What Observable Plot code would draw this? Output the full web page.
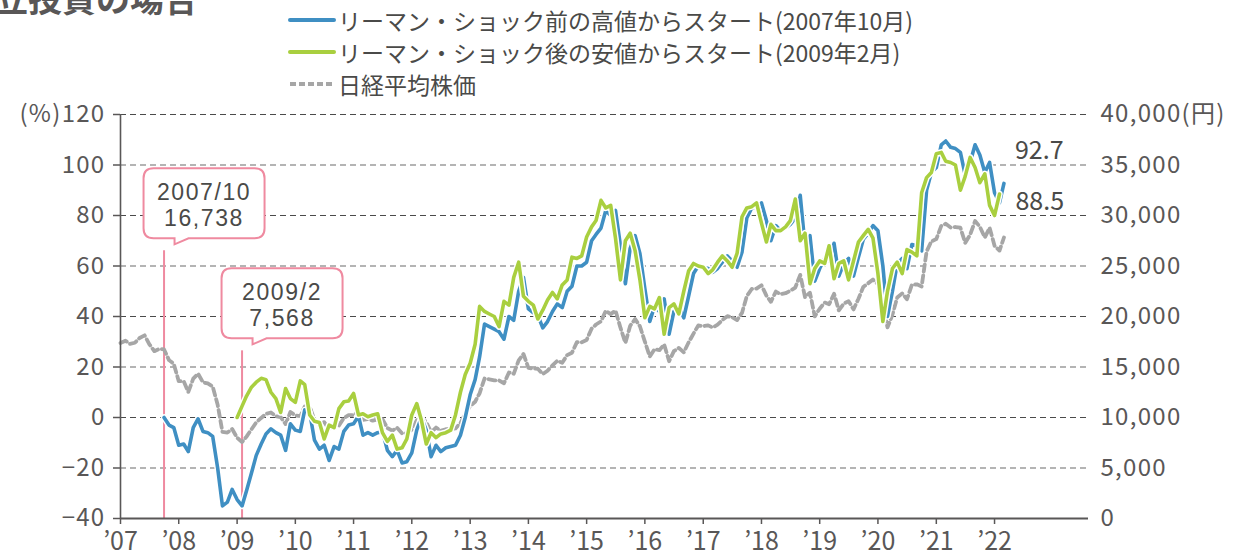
<!DOCTYPE html>
<html><head><meta charset="utf-8">
<script src="https://cdn.jsdelivr.net/npm/d3@7"></script>
<script src="https://cdn.jsdelivr.net/npm/@observablehq/plot@0.6"></script>
<style>
body{margin:0;background:#fff;font-family:"Noto Sans CJK JP",sans-serif;}
#wrap{position:relative;width:1249px;height:556px;overflow:hidden;}
#title{position:absolute;left:-40px;top:-19px;font-size:34px;line-height:34px;font-weight:bold;color:#595757;white-space:nowrap;}
#legend{position:absolute;left:288px;top:4px;font-size:23px;color:#4a4a48;}
.item{display:flex;align-items:center;height:32px;white-space:nowrap;}
.item svg{margin-right:2px;}
#chart{position:absolute;left:0;top:0;}
</style></head><body>
<div id="wrap"><div id="chart"></div><div id="title">積立投資の場合</div><div id="legend"></div></div>
<script>
// ---- data ----
const nikkeiStart = "2007-01";
const nikkei = [
17383,17604,17288,17400,17876,18138,17249,16569,16786,16738,15681,15308,
13592,13603,12526,13850,14339,13481,13377,13073,11260,8577,8512,8860,
7994,7568,8110,8828,9523,9958,10357,10493,10133,10035,9346,10546,
10198,10126,11090,11057,9769,9383,9537,8824,9369,9202,9937,10229,
10238,10624,9755,9850,9694,9816,9833,8955,8700,8988,8435,8455,
8803,9723,10084,9521,8543,9007,8695,8840,8870,8928,9446,10395,
11139,11559,12398,13861,13775,13677,13668,13389,14456,14328,15662,16291,
14915,14841,14828,14304,14632,15162,15621,15425,16174,16414,17460,17451,
17674,18798,19207,19520,20563,20236,20585,18890,17388,19083,19747,19034,
17518,16027,16759,16666,17235,15576,16569,16887,16450,17425,18308,19114,
19041,19119,18909,19197,19651,20033,19925,19646,20356,22012,22725,22765,
23098,22068,21454,22468,22202,22305,22554,22865,24120,21920,22351,20015,
20773,21385,21206,22259,20601,21276,21522,20704,21756,22927,23294,23657,
23205,21143,18917,20194,21878,22288,21710,23140,23185,22977,26434,27444,
27663,28966,29179,28813,28860,28792,27284,28090,29453,28893,27822,28792,
27002,26527,27821];

const blueStart = "2007-10";
const blue = [
0,-3,-4,
-11,-10.5,-13.5,-4,-0.5,-5.5,-6,-7.5,-20,-35,-33.5,-28.5,
-32.5,-35,-29,-22,-15,-10.5,-6.5,-4.5,-6,-7,-13,-2.5,
-5,-5.5,3,2,-9,-12.5,-11,-17,-11.5,-12.5,-5.5,-3,
-2.5,0.5,-7,-6,-7,-6,-5.5,-13,-15.5,-13,-18,-17.5,
-14,-5,0,-5,-15.5,-11,-13.5,-12,-11.5,-11,-7,0,
9,15,24,37,36,35,34,31,40,38.5,50,55.5,
43,41.5,40.5,35.5,38,42,45,43.5,50,52,60,60,
61.5,70,72.5,75,82,80,82,68,53,67,72,65,
51,38,44,42,47,33,42,44,39.5,48,57,60,
59.5,59,57.5,59,61.5,64,62,59.5,65.5,79,83,83.5,
85,78,70,76,74,75,76.5,79,88,68,72,54,
59,63,62,69,56,61,63,56,63.5,70.5,73,76,
74,60,40,50,61,63,59,68.5,68,66,90,97,
99,108,109.5,107,106.5,105,96,101,108,104,97,101,
89,85,92.7];

const greenStart = "2009-01";
const green = [
0,4.5,8.5,12,14,15.5,15,10,7.5,2,11.5,7.5,
6,14.5,13,1,-1.5,-2,-8.5,-3,-4,3.5,6.2,6.5,
9.5,1,1.5,0.3,1,1.5,-6,-9.5,-7,-12.5,-12,-8.5,
1,5.5,-1,-10.5,-6,-8,-6.5,-6,-5,1,10,17,
21.5,29,44,42,41,40,36,46,44.5,55.5,61.5,48,
46,44.5,39,42.5,46.5,49.5,47,52.5,54.5,63.5,63,64,
71.5,75.5,78,86,83,84,71,54.5,70,73,66,54.5,
39.5,44,43,47.5,33,43.5,45,41,50,58,61,60,
59.5,57,58.5,61.5,64,62,59.5,65,79.5,83,83.5,85,
77,69.5,76.5,74,74,75.5,78,86.5,70,73,53,59,
62,61,68,55,61,62,54.5,62,69.5,72,74.5,71,
57,38,50,59,61.5,57,66.5,65.5,64,89,95,97,
104.5,105,101.5,101,100,90,95.5,103,99,93,96.5,84,
80,88.5];

const seriesNames = ["リーマン・ショック前の高値からスタート(2007年10月)","リーマン・ショック後の安値からスタート(2009年2月)","日経平均株価"];
const yTicks = [-40,-20,0,20,40,60,80,100,120];
const yearTicks = ["2007","2008","2009","2010","2011","2012","2013","2014","2015","2016","2017","2018","2019","2020","2021","2022"];
const calloutDates = ["2007-10","2009-02"];
const calloutLabels = ["2007/10","2009/2"];
const calloutPrices = ["16,738","7,568"];

// ---- layout / style ----
const FONT = '"Noto Sans CJK JP", sans-serif';
const BOXFONT = '"Liberation Sans", "Noto Sans CJK JP", sans-serif';
const INK = "#595757";
const TXT = "#4a4a48";
const BLUE = "#3f8fc3", GREEN = "#a9cf3f", GRAY = "#a6a6a6", PINK = "#ef8aa0";
const calloutTop = [66, 26.4]; // where each pink rule starts (left-axis units)

const ym = s => { const [y, m] = s.split("-").map(Number); return new Date(Date.UTC(y, (m || 1) - 1, 1)); };
const build = (start, vals) => vals.map((v, i) => ({date: d3.utcMonth.offset(ym(start), i), value: v}));
const nk = build(nikkeiStart, nikkei).map(d => ({date: d.date, value: d.value / 250 - 40}));
const bl = build(blueStart, blue);
const gr = build(greenStart, green);
const x0 = new Date(Date.UTC(2007, 0, 1)), x1 = new Date(Date.UTC(2023, 7, 13));
const years = yearTicks.map(ym);
const callouts = calloutDates.map((d, i) => ({date: ym(d), top: calloutTop[i], label: calloutLabels[i], price: calloutPrices[i]}));

const plot = Plot.plot({
  width: 1249, height: 556,
  marginLeft: 120, marginRight: 161, marginTop: 114, marginBottom: 38,
  style: {fontFamily: FONT, fontSize: "24px", color: INK, background: "transparent", overflow: "visible"},
  x: {type: "utc", domain: [x0, x1]},
  y: {domain: [-40, 120]},
  marks: [
    Plot.gridY([-20, 20, 60, 100], {stroke: "#9c9c9c", strokeOpacity: 1, strokeDasharray: "6,4", strokeWidth: 1.4}),
    Plot.gridY([0, 40, 80, 120], {stroke: "#4a4a4a", strokeOpacity: 1, strokeDasharray: "6,4", strokeWidth: 1.2}),
    Plot.ruleX(callouts, {x: "date", y1: -40, y2: "top", stroke: PINK, strokeWidth: 2}),
    Plot.line(nk, {x: "date", y: "value", stroke: GRAY, strokeWidth: 3.8, strokeDasharray: "7,4"}),
    Plot.line(bl, {x: "date", y: "value", stroke: "white", strokeWidth: 6.5, strokeLinejoin: "round"}),
    Plot.line(bl, {x: "date", y: "value", stroke: BLUE, strokeWidth: 3.6, strokeLinejoin: "round"}),
    Plot.line(gr, {x: "date", y: "value", stroke: "white", strokeWidth: 6.5, strokeLinejoin: "round"}),
    Plot.line(gr, {x: "date", y: "value", stroke: GREEN, strokeWidth: 3.6, strokeLinejoin: "round"}),
    Plot.text([bl[bl.length - 1]], {x: "date", y: "value", text: d => String(d.value), dx: 11, dy: -32, textAnchor: "start", fill: TXT, fontSize: 25}),
    Plot.text([gr[gr.length - 1]], {x: "date", y: "value", text: d => String(d.value), dx: 16, dy: 8, textAnchor: "start", fill: TXT, fontSize: 25}),
    Plot.ruleX([x0], {stroke: INK, strokeWidth: 1.6}),
    Plot.ruleY([-40], {stroke: INK, strokeWidth: 2.2}),
    Plot.axisY(yTicks, {anchor: "left", tickSize: 7, tickPadding: 8, label: null, strokeWidth: 1.5, fontSize: 24,
      tickFormat: d => (d === 120 ? "(%)" : "") + (d < 0 ? "−" + (-d) : String(d))}),
    Plot.axisY(yTicks, {anchor: "right", tickSize: 0, tickPadding: 12, label: null, fontSize: 24,
      tickFormat: d => d3.format(",")((d + 40) * 250) + (d === 120 ? "(円)" : "")}),
    Plot.axisX(years, {tickSize: 6, tickPadding: 8, label: null, strokeWidth: 1.5, fontSize: 25,
      tickFormat: d => "’" + String(d.getUTCFullYear()).slice(2)})
  ]
});
document.getElementById("chart").appendChild(plot);
d3.select(plot).selectAll('g[aria-label="y-axis tick label"] text').style("letter-spacing", "1.3px");

// callout boxes placed with the plot's own scales
const sx = plot.scale("x"), sy = plot.scale("y");
const g = d3.select(plot).append("g");
callouts.forEach(c => {
  const lx = sx.apply(c.date), ty = sy.apply(c.top);
  const bx = lx - 20, bw = 121, bh = 70, by = ty - 12 - bh;
  const path = `M${bx + 10},${by} H${bx + bw - 10} Q${bx + bw},${by} ${bx + bw},${by + 10} V${by + bh - 10} Q${bx + bw},${by + bh} ${bx + bw - 10},${by + bh} H${lx + 25} L${lx + 11},${ty - 6} L${lx + 11},${by + bh} H${bx + 10} Q${bx},${by + bh} ${bx},${by + bh - 10} V${by + 10} Q${bx},${by} ${bx + 10},${by} Z`;
  g.append("path").attr("d", path).attr("fill", "white").attr("stroke", PINK).attr("stroke-width", 2);
  [[c.label, 23.5], [c.price, 49.5]].forEach(([s, off]) => {
    g.append("text").attr("x", bx + bw / 2).attr("y", by + off).attr("dy", "0.36em")
      .attr("text-anchor", "middle").attr("font-family", BOXFONT).attr("font-size", 23)
      .attr("letter-spacing", "1.6px").attr("fill", TXT).text(s);
  });
});

// legend
const legend = d3.select("#legend");
const swatches = [{stroke: BLUE, dash: null}, {stroke: GREEN, dash: null}, {stroke: GRAY, dash: "6,3"}];
seriesNames.forEach((name, i) => {
  const it = legend.append("div").attr("class", "item");
  const s = it.append("svg").attr("width", 48).attr("height", 12);
  s.append("line").attr("x1", 2).attr("x2", 46).attr("y1", 6).attr("y2", 6)
    .attr("stroke", swatches[i].stroke).attr("stroke-width", 4)
    .attr("stroke-linecap", swatches[i].dash ? "butt" : "round")
    .attr("stroke-dasharray", swatches[i].dash);
  it.append("span").text(name);
});
</script>
</body></html>
